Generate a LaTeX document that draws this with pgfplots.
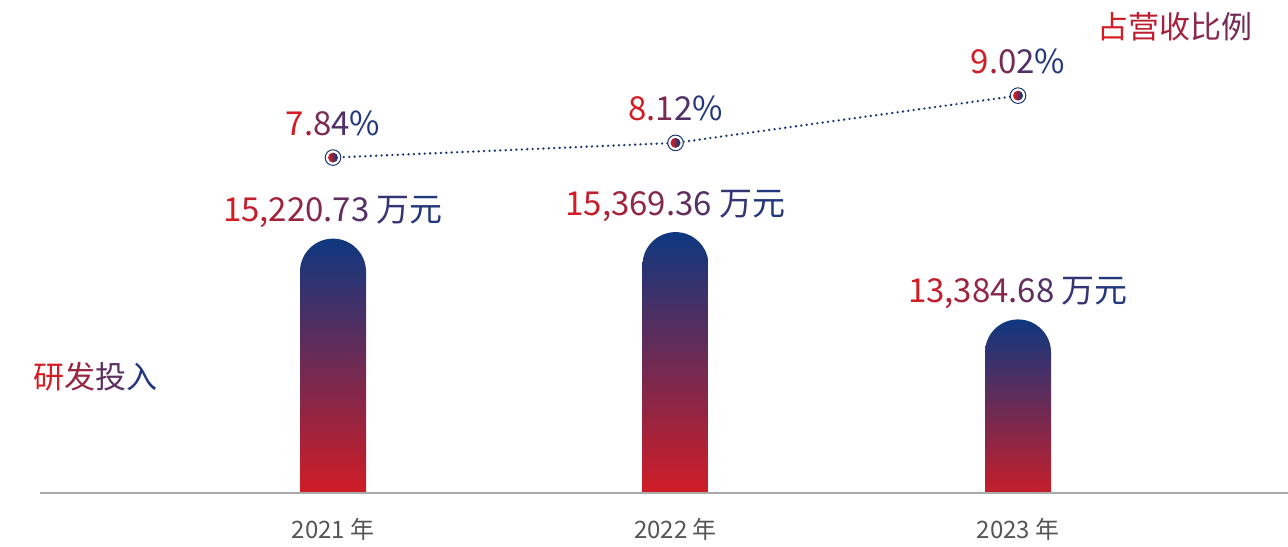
\documentclass[border=0pt]{standalone}
\usepackage{pgfplots}
\pgfplotsset{compat=1.18}
\usepackage{fontspec}
\setmainfont{Noto Sans CJK SC}
\definecolor{cred}{RGB}{212,28,36}
\definecolor{cblue}{RGB}{14,56,128}
\definecolor{ctxt}{RGB}{35,55,125}
\definecolor{cline}{RGB}{25,55,115}
\definecolor{ctick}{RGB}{85,85,85}
\definecolor{cbase}{RGB}{170,170,170}
\colorlet{cend}{ctxt!55!cred}
\pgfdeclareverticalshading{barsh}{100bp}{color(0bp)=(cred); color(30bp)=(cred); color(75bp)=(cblue); color(100bp)=(cblue)}
\pgfdeclarehorizontalshading{dotsh}{100bp}{color(0bp)=(cred); color(30bp)=(cred); color(70bp)=(cblue); color(100bp)=(cblue)}
\pgfdeclareplotmark{gdot}{\pgfpathcircle{\pgfpointorigin}{\pgfplotmarksize}\pgfshadepath{dotsh}{0}\pgfusepath{discard}}
\makeatletter
\newcount\gr@n \newcount\gr@i
\def\gr@end{\gr@end@}
\newcommand\gradtext[3]{\def\gr@a{#1}\def\gr@b{#2}\gr@n=0 \gr@count#3\gr@end\gr@i=0 \gr@do#3\gr@end}
\def\gr@count#1{\ifx#1\gr@end\else\advance\gr@n by 1 \expandafter\gr@count\fi}
\def\gr@do#1{\ifx#1\gr@end\else\edef\gr@c{\gr@b!\the\numexpr100*\gr@i/(\gr@n-1)\relax!\gr@a}{\color{\gr@c}#1}\advance\gr@i by 1 \expandafter\gr@do\fi}
\newcommand\barlab{\edef\gr@tmp{\pgfplotspointmeta}\expandafter\gr@barlab\expandafter{\gr@tmp}}
\newcommand\gr@barlab[1]{\gradtext{cred}{ctxt}{#1~万元}}
\newcommand\pctlab{\edef\gr@tmp{\pgfplotspointmeta}\expandafter\gr@pctlab\expandafter{\gr@tmp}}
\newcommand\gr@pctlab[1]{\gradtext{cred}{ctxt}{#1\%}}
\makeatother
\begin{document}
\begin{tikzpicture}
\useasboundingbox (0,0) rectangle (644pt,273pt);
\begin{scope}
\clip (0pt,26.5pt) rectangle (644pt,273pt);
\begin{axis}[
  at={(20pt,9.5pt)}, anchor=south west, scale only axis,
  x=171.25pt, y=0.022005pt,
  xmin=-0.8555, xmax=2.788, ymin=8667.2, ymax=20641.8,
  hide axis,
  point meta=explicit symbolic,
  nodes near coords={\barlab},
  every node near coord/.append style={anchor=base, yshift=8.5pt, inner sep=0pt, font=\fontsize{16.5}{18}\selectfont},
  barstyle/.style={ybar, bar width=33pt, bar shift=0pt, draw=none, shade, shading=barsh, rounded corners=16.5pt},
]
\addplot[barstyle] coordinates {(0,15220.73) [15,220.73]};
\addplot[barstyle] coordinates {(1,15369.36) [15,369.36]};
\addplot[barstyle] coordinates {(2,13384.68) [13,384.68]};
\end{axis}
\end{scope}
\begin{axis}[
  at={(20pt,26.5pt)}, anchor=south west, scale only axis,
  x=171.25pt, y=26.25pt,
  xmin=-0.8555, xmax=2.788, ymin=1.451, ymax=10.841,
  axis x line*=bottom, axis y line=none,
  x axis line style={draw=cbase, line width=0.7pt, -},
  xtick={0,1,2}, xticklabels={2021 年,2022 年,2023 年},
  major tick length=0pt,
  xticklabel style={font=\fontsize{12}{14}\selectfont, text=ctick, anchor=base, yshift=-22.5pt},
  ytick=\empty,
  clip=false,
]
\addplot[cline, line width=1.3pt, line cap=round, dash pattern=on 0pt off 2.7pt] coordinates {(0,7.84) (1,8.12) (2,9.02)};
\addplot[only marks, mark=*, mark size=3.9pt, mark options={draw=cline, fill=white, line width=0.5pt}] coordinates {(0,7.84) (1,8.12) (2,9.02)};
\addplot[only marks, mark=gdot, mark size=2.5pt, point meta=explicit symbolic, nodes near coords={\pctlab},
  every node near coord/.append style={anchor=base, yshift=11pt, inner sep=0pt, font=\fontsize{16.5}{18}\selectfont}]
  coordinates {(0,7.84) [7.84] (1,8.12) [8.12] (2,9.02) [9.02]};
\end{axis}
\node[font=\fontsize{15.5}{17}\selectfont, inner sep=0pt] at (47.5pt,84.5pt) {\gradtext{cred}{ctxt}{研发投入}};
\node[font=\fontsize{15.5}{17}\selectfont, inner sep=0pt] at (587.5pt,259.5pt) {\gradtext{cred}{cend}{占营收比例}};
\end{tikzpicture}
\end{document}
